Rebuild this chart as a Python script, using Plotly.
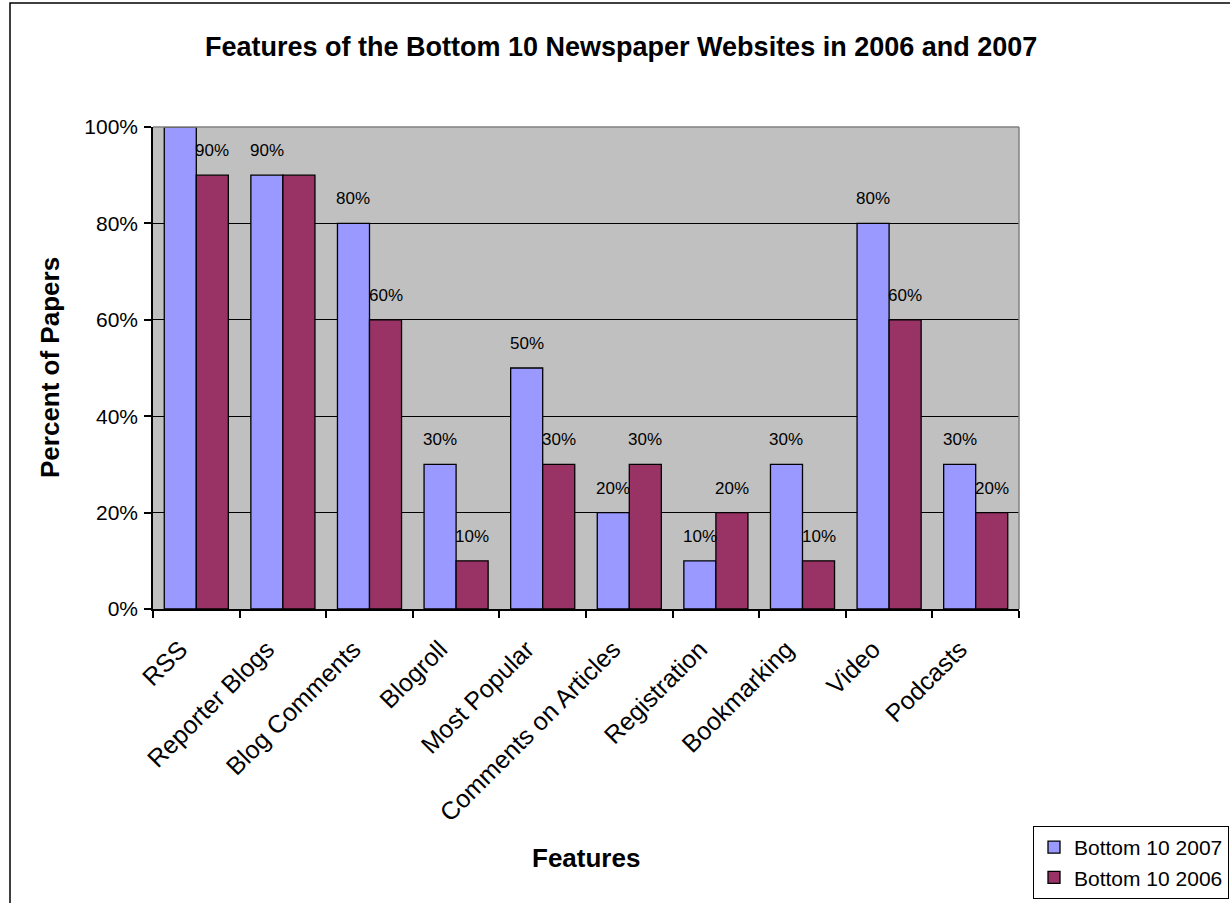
import plotly.graph_objects as go

# Feature categories and share of papers offering each feature
features = ["RSS", "Reporter Blogs", "Blog Comments", "Blogroll", "Most Popular",
            "Comments on Articles", "Registration", "Bookmarking", "Video", "Podcasts"]
bottom10_2007 = [1.0, 0.9, 0.8, 0.3, 0.5, 0.2, 0.1, 0.3, 0.8, 0.3]
bottom10_2006 = [0.9, 0.9, 0.6, 0.1, 0.3, 0.3, 0.2, 0.1, 0.6, 0.2]
y_ticks = [0, 0.2, 0.4, 0.6, 0.8, 1.0]

FONT = "Liberation Sans, Arial, sans-serif"
BLUE = "#9999FF"
MAROON = "#993366"
BARGAP = 0.26

fig = go.Figure()
fig.add_trace(go.Bar(name="Bottom 10 2007", x=features, y=bottom10_2007,
                     marker=dict(color=BLUE, line=dict(color="black", width=1.3)),
                     legendgroup="g2007"))
fig.add_trace(go.Bar(name="Bottom 10 2006", x=features, y=bottom10_2006,
                     marker=dict(color=MAROON, line=dict(color="black", width=1.3)),
                     legendgroup="g2006"))

# Value labels above each bar; a full-height bar has no room for one, and
# a 2006 label is left out when the 2007 bar beside it already shows the same value
bar_w = (1 - BARGAP) / 2
annotations = []
for i, v in enumerate(bottom10_2007):
    if v < 1.0:
        annotations.append(dict(x=i - bar_w / 2, y=v, text=f"{v:.0%}"))
for i, v in enumerate(bottom10_2006):
    if v < 1.0 and v != bottom10_2007[i]:
        annotations.append(dict(x=i + bar_w / 2, y=v, text=f"{v:.0%}"))
for a in annotations:
    a.update(xref="x", yref="y", showarrow=False, yanchor="bottom", yshift=13,
             font=dict(family=FONT, size=17, color="black"))

# Axis titles
annotations.append(dict(text="<b>Features</b>", x=0.5, y=(609 - 858) / 482,
                        xref="paper", yref="paper", showarrow=False,
                        xanchor="center", yanchor="middle",
                        font=dict(family=FONT, size=26, color="black")))
annotations.append(dict(text="<b>Percent of Papers</b>", x=(50 - 153) / 866, y=0.5,
                        xref="paper", yref="paper", showarrow=False, textangle=-90,
                        xanchor="center", yanchor="middle",
                        font=dict(family=FONT, size=26, color="black")))

fig.update_layout(
    width=1230, height=903,
    margin=dict(l=153, r=211, t=127, b=294, autoexpand=False),
    paper_bgcolor="white",
    plot_bgcolor="#C0C0C0",
    barmode="group",
    bargap=BARGAP,
    bargroupgap=0,
    font=dict(family=FONT, size=16, color="black"),
    title=dict(text="<b>Features of the Bottom 10 Newspaper Websites in 2006 and 2007</b>",
               x=0.505, xanchor="center", y=1 - 47 / 903, yanchor="middle",
               font=dict(family=FONT, size=27, color="black")),
    legend=dict(x=(1033 - 153) / 866, xanchor="left", y=(609 - 826) / 482, yanchor="top",
                bgcolor="white", bordercolor="black", borderwidth=1,
                font=dict(family=FONT, size=21, color="black"),
                itemwidth=30, tracegroupgap=4, traceorder="normal"),
    annotations=annotations,
    showlegend=True,
)

fig.update_xaxes(
    type="category",
    tickangle=-45,
    tickson="boundaries",
    ticks="outside", ticklen=7, tickcolor="black", tickwidth=1.5,
    showline=True, linecolor="black", linewidth=1.5,
    showgrid=False,
    automargin=False,
    ticklabelstandoff=14,
    ticklabelshift=-16,
    tickfont=dict(family=FONT, size=25, color="black"),
)
fig.update_yaxes(
    range=[0, 1.0],
    tickvals=y_ticks,
    tickformat=".0%",
    ticks="outside", ticklen=7, tickcolor="black", tickwidth=1.5,
    showline=True, linecolor="black", linewidth=1.5,
    showgrid=True, gridcolor="black", gridwidth=1.2,
    zeroline=False,
    automargin=False,
    ticklabelstandoff=2,
    tickfont=dict(family=FONT, size=21, color="black"),
)

# Grey frame on the top and right of the plot area
fig.add_shape(type="line", xref="paper", yref="paper", x0=0, x1=1, y0=1, y1=1,
              line=dict(color="#808080", width=1.5))
fig.add_shape(type="line", xref="paper", yref="paper", x0=1, x1=1, y0=0, y1=1,
              line=dict(color="#808080", width=1.5))
# Outer chart border
fig.add_shape(type="rect", xref="paper", yref="paper",
              x0=(10 - 153) / 866, x1=1.3, y0=-0.7, y1=(609 - 3) / 482,
              line=dict(color="black", width=1.5), layer="below")

fig.write_html("out.html")
